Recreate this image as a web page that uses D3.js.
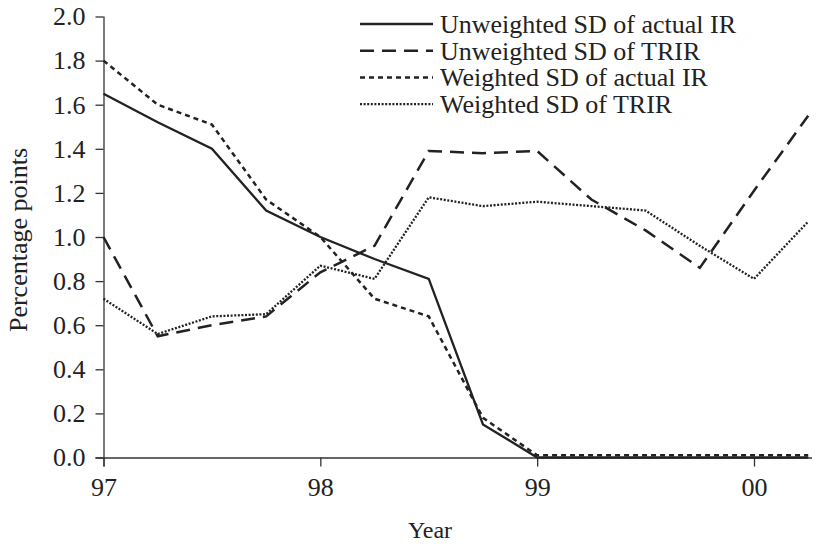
<!DOCTYPE html>
<html>
<head>
<script src="https://d3js.org/d3.v7.min.js"></script>
<style>
    body { margin: 0; background: #fff; }
    svg text { font-family: "Liberation Serif", "Times New Roman", serif; fill: #222; }
</style>
</head>
<body>
<script>

// quarterly observations, 1997 Q1 .. 2000 Q2
var quarters = [97, 97.25, 97.5, 97.75, 98, 98.25, 98.5, 98.75, 99, 99.25, 99.5, 99.75, 100, 100.25];

var unweightedActual = [1.65, 1.52, 1.40, 1.12, 1.00, 0.90, 0.81, 0.15, 0.00, 0.00, 0.00, 0.00, 0.00, 0.00];
var unweightedTrir   = [1.00, 0.55, 0.60, 0.64, 0.84, 0.96, 1.39, 1.38, 1.39, 1.17, 1.03, 0.86, 1.21, 1.55];
var weightedActual   = [1.80, 1.60, 1.51, 1.17, 1.00, 0.72, 0.64, 0.18, 0.01, 0.01, 0.01, 0.01, 0.01, 0.01];
var weightedTrir     = [0.72, 0.56, 0.64, 0.65, 0.87, 0.81, 1.18, 1.14, 1.16, 1.14, 1.12, 0.96, 0.81, 1.07];

var seriesNames = ["Unweighted SD of actual IR", "Unweighted SD of TRIR", "Weighted SD of actual IR", "Weighted SD of TRIR"];

var xTicks = [97, 98, 99, 100];
var xTickLabels = ["97", "98", "99", "00"];
var yTicks = [0, 0.2, 0.4, 0.6, 0.8, 1.0, 1.2, 1.4, 1.6, 1.8, 2.0];

var width = 820, height = 544;

var svg = d3.select("body").append("svg")
    .attr("width", width)
    .attr("height", height);

var x = d3.scaleLinear().domain([97, 100]).range([103.5, 754]);
var y = d3.scaleLinear().domain([0, 2]).range([457.5, 16.5]);

// line styles for each series
var styles = [
    { dash: null, w: 2.3 },
    { dash: "14,8", w: 2.5 },
    { dash: "5,4", w: 2.5 },
    { dash: "2,1.6", w: 2.3 }
];

var allSeries = [unweightedActual, unweightedTrir, weightedActual, weightedTrir];

// axes
var xAxis = svg.append("g")
    .attr("transform", "translate(0," + y(0) + ")")
    .call(d3.axisBottom(x).tickValues(xTicks).tickSize(9).tickPadding(11)
        .tickFormat(function(d, i) { return xTickLabels[i]; }));
xAxis.select(".domain").attr("d", "M" + (x(97) - 8) + ",0.5H812");

var yAxis = svg.append("g")
    .attr("transform", "translate(" + x(97) + ",0)")
    .call(d3.axisLeft(y).tickValues(yTicks).tickSize(8).tickPadding(10)
        .tickFormat(d3.format(".1f")));
yAxis.select(".domain").attr("d", "M0.5," + y(2) + "V" + (y(0) + 9));

svg.selectAll(".tick text").attr("font-size", "26px").style("font-family", "'Liberation Serif', serif");
svg.selectAll(".tick line, .domain").attr("stroke", "#333").attr("stroke-width", 1.3);

// series
var line = d3.line()
    .x(function(d, i) { return x(quarters[i]); })
    .y(function(d) { return y(d); });

allSeries.forEach(function(s, k) {
    svg.append("path")
        .datum(s)
        .attr("fill", "none")
        .attr("stroke", "#222")
        .attr("stroke-width", styles[k].w)
        .attr("stroke-dasharray", styles[k].dash)
        .attr("d", line);
});

// legend
var legend = svg.append("g");
seriesNames.forEach(function(name, k) {
    var ly = 24 + k * 26.7;
    legend.append("line")
        .attr("x1", 360).attr("x2", 433)
        .attr("y1", ly).attr("y2", ly)
        .attr("stroke", "#222")
        .attr("stroke-width", styles[k].w)
        .attr("stroke-dasharray", styles[k].dash);
    legend.append("text")
        .attr("x", 440)
        .attr("y", ly + 9)
        .attr("font-size", "26px")
        .text(name);
});

// axis titles
svg.append("text")
    .attr("x", 430)
    .attr("y", 538)
    .attr("text-anchor", "middle")
    .attr("font-size", "24px")
    .text("Year");

svg.append("text")
    .attr("transform", "translate(27,240)rotate(-90)")
    .attr("text-anchor", "middle")
    .attr("font-size", "26px")
    .text("Percentage points");

</script>
</body>
</html>
